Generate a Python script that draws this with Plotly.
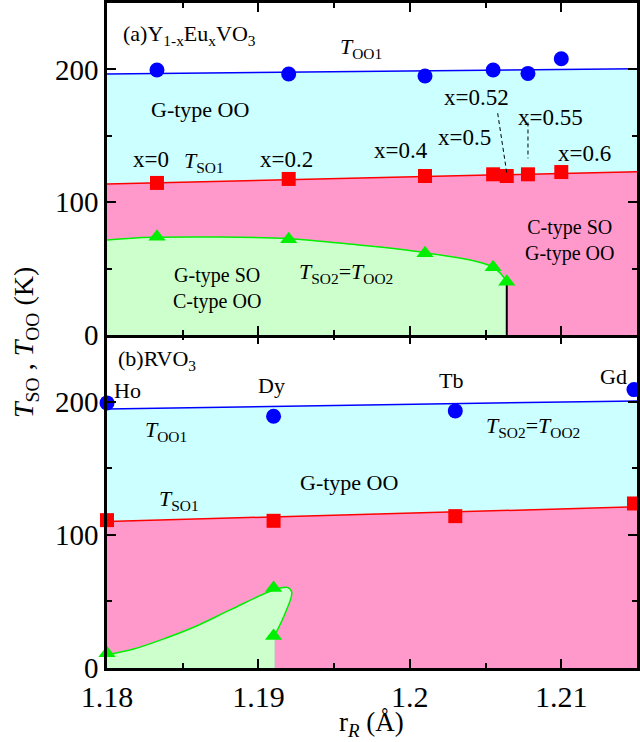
import plotly.graph_objects as go

# ---------------- data: panel (a) Y1-xEuxVO3 ----------------
a_rR = [1.1833, 1.1920, 1.2010, 1.2055, 1.2064, 1.2078, 1.2100]
a_x_labels = ["x=0", "x=0.2", "x=0.4", "x=0.5", "x=0.52", "x=0.55", "x=0.6"]
a_TOO1_x = [1.1833, 1.1920, 1.2010, 1.2055, 1.2078, 1.2100]
a_TOO1 = [199.5, 196.5, 195.0, 199.5, 197.0, 208.0]
a_TSO1 = [114.5, 117.5, 119.7, 121.0, 119.7, 121.0, 122.7]
a_TSO2_x = [1.1833, 1.1920, 1.2010, 1.2055, 1.2064]
a_TSO2 = [74.0, 72.0, 61.5, 51.0, 40.0]

# boundary curves (a)
a_oo1_line_x = [1.18, 1.215]
a_oo1_line_y = [196.5, 200.5]
a_so1_line_x = [1.18, 1.215]
a_so1_line_y = [113.7, 123.0]
a_so2_curve_x = [1.18, 1.183, 1.192, 1.1955, 1.201, 1.2055, 1.2064]
a_so2_curve_y = [71.5, 73.5, 72.5, 69.0, 62.0, 51.0, 40.0]

# ---------------- data: panel (b) RVO3 ----------------
b_elements = ["Ho", "Dy", "Tb", "Gd"]
b_rR = [1.1800, 1.1910, 1.2030, 1.2148]
b_TOO1 = [199.0, 189.0, 193.0, 209.0]
b_TSO1 = [111.0, 110.5, 114.0, 123.5]
b_TSO2_x = [1.1800, 1.1910, 1.1910]
b_TSO2 = [11.0, 60.0, 24.0]

b_oo1_line_x = [1.18, 1.215]
b_oo1_line_y = [194.5, 200.5]
b_so1_line_x = [1.18, 1.215]
b_so1_line_y = [110.0, 121.0]
b_so2_curve_x = [1.18, 1.1817, 1.1839, 1.1861, 1.1882, 1.1910, 1.1919, 1.1922, 1.1918, 1.1911]
b_so2_curve_y = [10.0, 14.0, 22.5, 32.5, 44.0, 58.5, 60.5, 57.0, 42.0, 25.0]

# axes
x_range = [1.18, 1.215]
y_range = [0, 250]
x_ticks = [1.18, 1.19, 1.2, 1.21]
x_ticktext = ["1.18", "1.19", "1.2", "1.21"]
y_ticks = [0, 100, 200]

CYAN = "#CCFFFF"
PINK = "#FF99CC"
LGREEN = "#CCFFCC"
BLUE = "#0000FF"
RED = "#FF0000"
GREEN = "#00EE00"
FONT = "Liberation Serif, Times New Roman, serif"

fig = go.Figure()


def add_panel(xa, ya, oo1x, oo1y, so1x, so1y, so2x, so2y):
    fig.add_trace(go.Scatter(x=oo1x, y=oo1y, mode="lines", fill="tozeroy",
                             fillcolor=CYAN, line=dict(color=BLUE, width=1.5),
                             xaxis=xa, yaxis=ya, hoverinfo="skip"))
    fig.add_trace(go.Scatter(x=so1x, y=so1y, mode="lines", fill="tozeroy",
                             fillcolor=PINK, line=dict(color=RED, width=1.5),
                             xaxis=xa, yaxis=ya, hoverinfo="skip"))
    fig.add_trace(go.Scatter(x=so2x, y=so2y, mode="lines", fill="tozeroy",
                             fillcolor=LGREEN, line=dict(color=GREEN, width=1.5, shape="spline"),
                             xaxis=xa, yaxis=ya, hoverinfo="skip"))


add_panel("x2", "y2", a_oo1_line_x, a_oo1_line_y, a_so1_line_x, a_so1_line_y,
          a_so2_curve_x, a_so2_curve_y)
add_panel("x", "y", b_oo1_line_x, b_oo1_line_y, b_so1_line_x, b_so1_line_y,
          b_so2_curve_x, b_so2_curve_y)

# vertical boundaries
fig.add_trace(go.Scatter(x=[a_so2_curve_x[-1], a_so2_curve_x[-1]], y=[0, a_so2_curve_y[-1]],
                         mode="lines", line=dict(color="black", width=2),
                         xaxis="x2", yaxis="y2", hoverinfo="skip"))
fig.add_trace(go.Scatter(x=[b_so2_curve_x[-1], b_so2_curve_x[-1]], y=[0, b_so2_curve_y[-1]],
                         mode="lines", line=dict(color="#BBBBBB", width=1),
                         xaxis="x", yaxis="y", hoverinfo="skip"))

# markers
mk = dict(cliponaxis=False, hoverinfo="skip", mode="markers")
fig.add_trace(go.Scatter(x=a_TOO1_x, y=a_TOO1, marker=dict(symbol="circle", size=15, color=BLUE),
                         xaxis="x2", yaxis="y2", **mk))
fig.add_trace(go.Scatter(x=a_rR, y=a_TSO1, marker=dict(symbol="square", size=14, color=RED),
                         xaxis="x2", yaxis="y2", **mk))
fig.add_trace(go.Scatter(x=a_TSO2_x, y=a_TSO2, marker=dict(symbol="triangle-up", size=15, color=GREEN),
                         xaxis="x2", yaxis="y2", **mk))
fig.add_trace(go.Scatter(x=b_rR, y=b_TOO1, marker=dict(symbol="circle", size=15, color=BLUE),
                         xaxis="x", yaxis="y", **mk))
fig.add_trace(go.Scatter(x=b_rR, y=b_TSO1, marker=dict(symbol="square", size=14, color=RED),
                         xaxis="x", yaxis="y", **mk))
fig.add_trace(go.Scatter(x=b_TSO2_x, y=b_TSO2, marker=dict(symbol="triangle-up", size=15, color=GREEN),
                         xaxis="x", yaxis="y", **mk))

# dashed leader lines (panel a)
leaders = [
    ([1.2058, 1.2064], [167, 122]),
    ([1.2078, 1.2078], [160, 133]),
]
for lx, ly in leaders:
    fig.add_trace(go.Scatter(x=lx, y=ly, mode="lines", line=dict(color="black", width=1, dash="4px,3px"),
                             xaxis="x2", yaxis="y2", hoverinfo="skip"))

TS = 22
ann = []


def txt(x, y, t, xref="x2", yref="y2", xanchor="center", size=TS):
    ann.append(dict(x=x, y=y, xref=xref, yref=yref, text=t, showarrow=False,
                    xanchor=xanchor, yanchor="middle", font=dict(family=FONT, size=size, color="black")))


T_OO1 = "<i>T</i><sub>OO1</sub>"
T_SO1 = "<i>T</i><sub>SO1</sub>"
T_SO2_OO2 = "<i>T</i><sub>SO2</sub>=<i>T</i><sub>OO2</sub>"

# panel (a) texts
txt(1.18095, 226, "(a)Y<sub>1-x</sub>Eu<sub>x</sub>VO<sub>3</sub>", xanchor="left")
txt(1.19675, 216, T_OO1)
txt(1.18613, 170, "G-type OO")
txt(1.18639, 130, T_SO1)
a_label_pos = [(1.18292, 132), (1.19184, 132), (1.19944, 139), (1.20364, 149),
               (1.20443, 179), (1.20928, 164), (1.2115, 137)]
for (px, py), lab in zip(a_label_pos, a_x_labels):
    txt(px, py, lab, size=23)
txt(1.21052, 71.5, "C-type SO<br>G-type OO", size=20)
txt(1.18725, 35, "G-type SO<br>C-type OO", size=20)
txt(1.19577, 47, T_SO2_OO2)

# panel (b) texts
txt(1.18062, 231, "(b)RVO<sub>3</sub>", xref="x", yref="y", xanchor="left")
b_label_pos = [(1.18134, 208), (1.19085, 212), (1.20272, 216), (1.21348, 219)]
for (px, py), lab in zip(b_label_pos, b_elements):
    txt(px, py, lab, xref="x", yref="y")
txt(1.1839, 178, T_OO1, xref="x", yref="y")
txt(1.18475, 126, T_SO1, xref="x", yref="y")
txt(1.19597, 139, "G-type OO", xref="x", yref="y")
txt(1.2081, 181, T_SO2_OO2, xref="x", yref="y")

# axis titles
ann.append(dict(x=-0.155, y=0.49, xref="paper", yref="paper", textangle=-90, showarrow=False,
                text="<i>T</i><sub>SO</sub> , <i>T</i><sub>OO</sub> (K)",
                xanchor="center", yanchor="middle", font=dict(family=FONT, size=28, color="black")))
ann.append(dict(x=0.499, y=-0.084, xref="paper", yref="paper", showarrow=False,
                text="r<sub><i>R</i></sub> (Å)",
                xanchor="center", yanchor="middle", font=dict(family=FONT, size=27, color="black")))

ax_common = dict(showline=True, linewidth=2.5, linecolor="black", mirror="ticks",
                 ticks="inside", ticklen=9, tickwidth=1.5, tickcolor="black",
                 showgrid=False, zeroline=False,
                 tickfont=dict(family=FONT, size=29, color="black"))

DOM = 0.5008
fig.update_layout(
    width=640, height=742,
    margin=dict(l=107, r=0, t=3, b=74),
    paper_bgcolor="white", plot_bgcolor="white",
    showlegend=False,
    annotations=ann,
    xaxis=dict(domain=[0, 1], anchor="y", range=x_range, tickvals=x_ticks, ticktext=x_ticktext,
               minor=dict(dtick=0.005, tick0=1.18, ticks="inside", ticklen=5, tickcolor="black"),
               **{**ax_common, "tickfont": dict(family=FONT, size=30, color="black")}),
    xaxis2=dict(domain=[0, 1], anchor="y2", range=x_range, tickvals=x_ticks, matches="x",
                showticklabels=False,
                minor=dict(dtick=0.005, tick0=1.18, ticks="inside", ticklen=5, tickcolor="black"),
                **ax_common),
    yaxis=dict(domain=[0, DOM], anchor="x", range=y_range, tickvals=y_ticks,
               minor=dict(dtick=50, tick0=0, ticks="inside", ticklen=5, tickcolor="black"),
               **ax_common),
    yaxis2=dict(domain=[DOM, 1], anchor="x2", range=y_range, tickvals=y_ticks,
                minor=dict(dtick=50, tick0=0, ticks="inside", ticklen=5, tickcolor="black"),
                **ax_common),
)

fig.write_html("out.html", config={"displayModeBar": False},
               post_script="document.body.style.margin='0px';document.body.style.overflow='hidden';")
